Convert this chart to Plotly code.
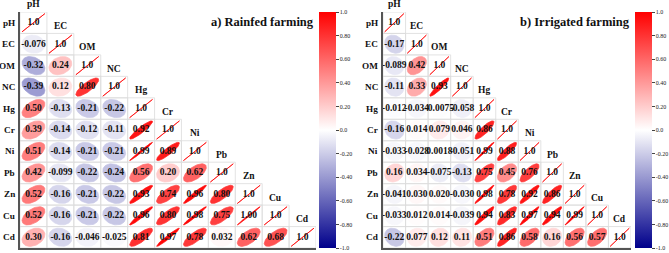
import numpy as np
import plotly.graph_objects as go

variables = ["pH", "EC", "OM", "NC", "Hg", "Cr", "Ni", "Pb", "Zn", "Cu", "Cd"]

# lower-triangle correlation rows (row i holds columns 0..i)
rainfed = [
    [1.0],
    [-0.076, 1.0],
    [-0.32, 0.24, 1.0],
    [-0.39, 0.12, 0.80, 1.0],
    [0.50, -0.13, -0.21, -0.22, 1.0],
    [0.39, -0.14, -0.12, -0.11, 0.92, 1.0],
    [0.51, -0.14, -0.21, -0.21, 0.99, 0.89, 1.0],
    [0.42, -0.099, -0.22, -0.24, 0.56, 0.20, 0.62, 1.0],
    [0.52, -0.16, -0.21, -0.22, 0.93, 0.74, 0.96, 0.80, 1.0],
    [0.52, -0.16, -0.21, -0.22, 0.96, 0.80, 0.98, 0.75, 0.996, 1.0],
    [0.30, -0.16, -0.046, -0.025, 0.81, 0.97, 0.78, 0.032, 0.62, 0.68, 1.0],
]

irrigated = [
    [1.0],
    [-0.17, 1.0],
    [-0.089, 0.42, 1.0],
    [-0.11, 0.33, 0.93, 1.0],
    [-0.012, -0.034, -0.0075, -0.058, 1.0],
    [-0.16, 0.014, 0.079, 0.046, 0.86, 1.0],
    [-0.033, -0.028, 0.0018, -0.051, 0.99, 0.88, 1.0],
    [0.16, 0.034, -0.075, -0.13, 0.75, 0.45, 0.76, 1.0],
    [-0.041, 0.030, 0.020, -0.030, 0.98, 0.78, 0.92, 0.86, 1.0],
    [-0.033, 0.012, 0.014, -0.039, 0.94, 0.83, 0.97, 0.94, 0.99, 1.0],
    [-0.22, 0.077, 0.12, 0.11, 0.51, 0.86, 0.58, 0.16, 0.56, 0.57, 1.0],
]

titles = ["a) Rainfed farming", "b) Irrigated farming"]
cbar_vals = [-1.0, -0.8, -0.6, -0.4, -0.2, 0.0, 0.2, 0.4, 0.6, 0.8, 1.0]
cbar_text = ["-1.0", "-0.80", "-0.60", "-0.40", "-0.20", "0.0", "0.20", "0.40", "0.60", "0.80", "1.0"]

W, H = 669, 253
FONT = "Liberation Serif"
NEG = (0, 0, 139)
POS = (255, 0, 0)


def col_for(r):
    if r >= 0:
        c = [255 + (p - 255) * r for p in POS]
    else:
        c = [255 + (p - 255) * (-r) for p in NEG]
    return "rgb(%d,%d,%d)" % tuple(int(round(v)) for v in c)


def fmt(v):
    if v != 1.0 and f"{v:.2f}" == "1.00":
        return "1.00"
    return f"{v:#.2g}"


panels = [
    dict(data=rainfed, xa="x", ya="y", xdom=[20 / W, 316 / W], cbx=319 / W, title=titles[0], tx=316 / W, ca="coloraxis"),
    dict(data=irrigated, xa="x2", ya="y2", xdom=[383 / W, 631 / W], cbx=635 / W, title=titles[1], tx=632 / W, ca="coloraxis2"),
]
ydom = [1 - 248 / H, 1 - 12 / H]

fig = go.Figure()
t = np.linspace(0, 2 * np.pi, 70)
n = len(variables)
lab_font = dict(family=FONT, size=9.5, color="#111")
row_font = dict(family=FONT, size=9.2, color="#111")

for p in panels:
    mat = p["data"]
    # cell grid
    gx, gy = [], []
    for i in range(n):
        for j in range(i + 1):
            gx += [j - 0.5, j + 0.5, j + 0.5, j - 0.5, j - 0.5, None]
            gy += [i - 0.5, i - 0.5, i + 0.5, i + 0.5, i - 0.5, None]
    fig.add_trace(go.Scatter(x=gx, y=gy, mode="lines", line=dict(color="#DCDCDC", width=0.8),
                             hoverinfo="skip", showlegend=False, xaxis=p["xa"], yaxis=p["ya"]))
    # ellipses
    for i in range(n):
        for j in range(i + 1):
            r = mat[i][j]
            a = np.arccos(max(-1.0, min(1.0, r)))
            dx = 0.85 * np.cos(t + a / 2) / 2
            dy = 0.85 * np.cos(t - a / 2) / 2
            c = col_for(r)
            fig.add_trace(go.Scatter(x=j + dx, y=i - dy, mode="lines", fill="toself", fillcolor=c,
                                     line=dict(color=c, width=0.7), hoverinfo="skip", showlegend=False,
                                     xaxis=p["xa"], yaxis=p["ya"]))
    # numbers
    tx, ty, tt = [], [], []
    for i in range(n):
        for j in range(i + 1):
            tx.append(j)
            ty.append(i)
            tt.append("<b>%s</b>" % fmt(mat[i][j]))
    fig.add_trace(go.Scatter(x=tx, y=ty, mode="text", text=tt, textfont=lab_font,
                             hoverinfo="skip", showlegend=False, xaxis=p["xa"], yaxis=p["ya"]))
    xd = p["xa"] + " domain"
    yd = p["ya"] + " domain"
    for k, v in enumerate(variables):
        # column label above the diagonal cell
        fig.add_annotation(text="<b>%s</b>" % v, xref=xd, yref=yd, x=(k + 0.5) / n,
                           y=1 - (k - 1 + 0.5 + 0.15) / n, xanchor="center", yanchor="middle",
                           showarrow=False, font=lab_font)
        # row label left of the axis
        fig.add_annotation(text="<b>%s</b>" % v, xref=xd, yref=yd, x=0, xshift=-3,
                           y=1 - (k + 0.5) / n, xanchor="right", yanchor="middle",
                           showarrow=False, font=row_font)
    # colorbar carrier
    fig.add_trace(go.Scatter(x=[None], y=[None], mode="markers",
                             marker=dict(color=[0], coloraxis=p["ca"]), hoverinfo="skip",
                             showlegend=False, xaxis=p["xa"], yaxis=p["ya"]))
    fig.add_annotation(text="<b>%s</b>" % p["title"], xref="paper", yref="paper", x=p["tx"], y=1 - 22 / H,
                       xanchor="right", yanchor="middle", showarrow=False,
                       font=dict(family=FONT, size=12.5, color="#111"))

axis_common = dict(showgrid=False, zeroline=False, showticklabels=False, ticks="",
                   showline=True, linecolor="#555", linewidth=1.5)
cscale = [[0, "rgb(0,0,139)"], [0.5, "rgb(255,255,255)"], [1, "rgb(255,0,0)"]]


def cbar(x):
    return dict(x=x, xanchor="left", y=(ydom[0] + ydom[1]) / 2, yanchor="middle",
                len=ydom[1] - ydom[0], lenmode="fraction", thickness=17, xpad=0, ypad=0,
                outlinewidth=0, tickvals=cbar_vals, ticktext=cbar_text, ticks="outside",
                ticklen=3, tickwidth=0.8, tickcolor="#444",
                tickfont=dict(family=FONT, size=6, color="#222"))


fig.update_layout(
    width=W, height=H, margin=dict(l=0, r=0, t=0, b=0),
    paper_bgcolor="white", plot_bgcolor="white",
    xaxis=dict(domain=panels[0]["xdom"], range=[-0.5, 10.5], anchor="y", **axis_common),
    yaxis=dict(domain=ydom, range=[10.5, -0.5], anchor="x", **axis_common),
    xaxis2=dict(domain=panels[1]["xdom"], range=[-0.5, 10.5], anchor="y2", **axis_common),
    yaxis2=dict(domain=ydom, range=[10.5, -0.5], anchor="x2", **axis_common),
    coloraxis=dict(cmin=-1, cmax=1, colorscale=cscale, colorbar=cbar(panels[0]["cbx"])),
    coloraxis2=dict(cmin=-1, cmax=1, colorscale=cscale, colorbar=cbar(panels[1]["cbx"])),
)

fig.write_html("out.html", config={"displayModeBar": False},
               post_script="document.body.style.margin='0';document.body.style.overflow='hidden';")
